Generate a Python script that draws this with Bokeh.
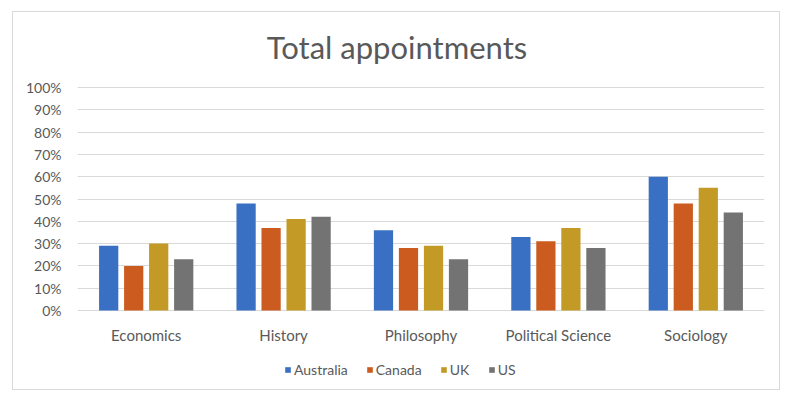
from bokeh.plotting import figure
from bokeh.models import (Range1d, FixedTicker, NumeralTickFormatter, Legend, LegendItem,
                          FactorRange, ColumnDataSource)
from bokeh.core.properties import value
from bokeh.transform import dodge
from bokeh.embed import file_html
from bokeh.resources import INLINE

title = "Total appointments"
categories = ["Economics", "History", "Philosophy", "Political Science", "Sociology"]
series = ["Australia", "Canada", "UK", "US"]
australia = [0.29, 0.48, 0.36, 0.33, 0.60]
canada = [0.20, 0.37, 0.28, 0.31, 0.48]
uk = [0.30, 0.41, 0.29, 0.37, 0.55]
us = [0.23, 0.42, 0.23, 0.28, 0.44]
y_ticks = [0, 0.1, 0.2, 0.3, 0.4, 0.5, 0.6, 0.7, 0.8, 0.9, 1.0]

colors = ["#3A70C3", "#CB5B1F", "#C39A25", "#737373"]
offsets = [-0.273, -0.091, 0.091, 0.273]
FONT = "Lato"
TXT = "#595959"
PX = 223.0                     # pixels per 100%
Y_TOP = 1 + 75 / PX            # frame extends up to hold the title
Y_BOTTOM = -79 / PX            # and down to hold labels and legend
LABEL_Y = -24 / PX             # category label row
TITLE_Y = 1 + 41 / PX          # title baseline
TITLE_X = 2.325                # title centre, in category units

data = dict(cat=categories, Australia=australia, Canada=canada, UK=uk, US=us)

p = figure(x_range=FactorRange(*categories), y_range=Range1d(Y_BOTTOM, Y_TOP),
           width=768, height=379, output_backend="svg", toolbar_location=None,
           min_border_left=64, min_border_right=17, min_border_top=0, min_border_bottom=2)

renderers = []
for s, c, off in zip(series, colors, offsets):
    r = p.vbar(x=dodge("cat", off, range=p.x_range), top=s, width=0.14, source=data,
               fill_color=c, line_color=None)
    renderers.append(r)

lab = ColumnDataSource(dict(cat=categories, y=[LABEL_Y] * len(categories)))
p.text(x="cat", y="y", text="cat", source=lab, text_align="center", text_baseline="middle",
       text_font=value(FONT), text_font_size="15px", text_color=TXT)

p.text(x=[TITLE_X], y=[TITLE_Y], text=[title], text_align="center",
       text_baseline="alphabetic", text_font=value(FONT), text_font_size="31px",
       text_color=TXT)

p.outline_line_color = None
p.xaxis.visible = False
p.xgrid.grid_line_color = None
p.ygrid.grid_line_color = "#D9D9D9"
p.ygrid.ticker = FixedTicker(ticks=y_ticks)

p.yaxis.ticker = FixedTicker(ticks=y_ticks)
p.yaxis.formatter = NumeralTickFormatter(format="0%")
p.yaxis.axis_line_color = None
p.yaxis.major_tick_line_color = None
p.yaxis.minor_tick_line_color = None
p.yaxis.major_tick_out = 0
p.yaxis.major_label_standoff = 16
p.yaxis.major_label_text_font = FONT
p.yaxis.major_label_text_font_size = "14px"
p.yaxis.major_label_text_color = TXT

legend = Legend(items=[LegendItem(label=s, renderers=[r]) for s, r in zip(series, renderers)],
                orientation="horizontal", location=(207, 11),
                label_text_font=FONT, label_text_font_size="14px", label_text_color=TXT,
                glyph_width=7, glyph_height=7, label_standoff=3, spacing=18,
                padding=0, margin=0, border_line_color=None, background_fill_alpha=0,
                label_height=15)
p.add_layout(legend, "center")

p.styles = {"border": "1px solid #D9D9D9", "margin-left": "12px", "margin-top": "11px"}

open("out.html", "w").write(file_html(p, INLINE))
